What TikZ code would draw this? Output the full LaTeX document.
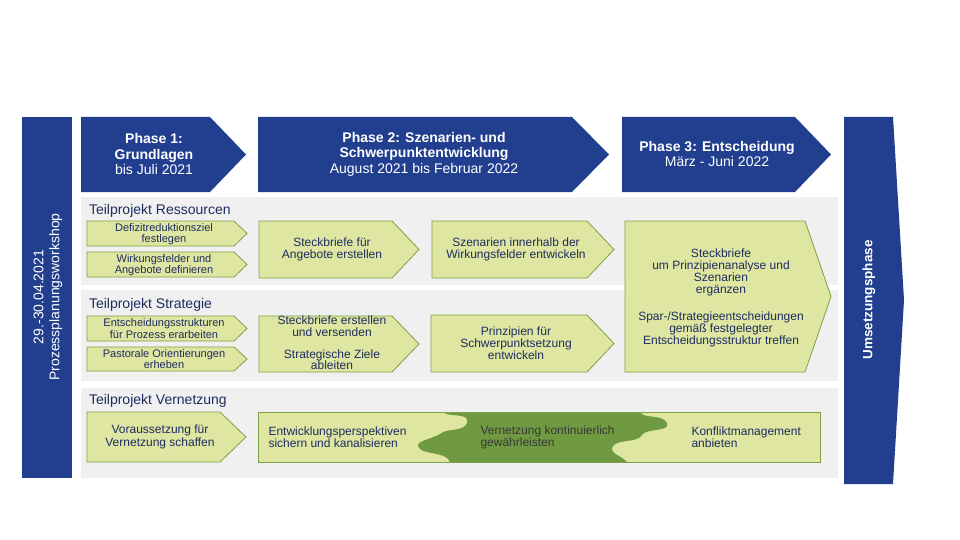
\documentclass[tikz,border=0pt]{standalone}
\usepackage{fontspec}
\setmainfont{Liberation Sans}
\definecolor{phaseblue}{RGB}{33,63,142}
\definecolor{stepgreen}{RGB}{223,230,161}
\definecolor{stepline}{RGB}{125,162,70}
\definecolor{blobgreen}{RGB}{112,154,66}
\definecolor{panelgray}{RGB}{240,240,240}
\definecolor{textnavy}{RGB}{30,44,96}

\begin{document}
\begin{tikzpicture}[x=1pt, y=-1pt,
    phase/.style={fill=phaseblue},
    panel/.style={fill=panelgray},
    stepbox/.style={fill=stepgreen, draw=stepline, line width=0.8pt},
    phasetext/.style={text=white, align=center, font=\fontsize{14}{15.5}\selectfont},
    sidetext/.style={text=white, align=center, rotate=90, font=\fontsize{14}{16}\selectfont},
    teiltext/.style={text=textnavy, anchor=base west, font=\fontsize{14}{16}\selectfont},
    smalltext/.style={text=textnavy, align=center, font=\fontsize{11}{11.5}\selectfont},
    steptext/.style={text=textnavy, align=center, font=\fontsize{12}{12.2}\selectfont}]
    \useasboundingbox [fill=white] (0,0) rectangle (960,540);

    % side bars
    \fill [phase] (22,117) rectangle (72,478);
    \node [sidetext] (workshop) at (48,297) {29.-30.04.2021\\Prozessplanungsworkshop};
    \fill [phase] (844,117) -- (893,117) -- (904,300) -- (893,484) -- (844,484) -- cycle;
    \node [sidetext, font=\fontsize{13.5}{16}\selectfont] (umsetzung) at (869,300) {\bfseries Umsetzungsphase};

    % phases
    \fill [phase] (81,117) -- (210,117) -- (246,154.5) -- (210,192) -- (81,192) -- cycle;
    \fill [phase] (258,117) -- (572,117) -- (609,154.5) -- (572,192) -- (258,192) -- cycle;
    \fill [phase] (622,117) -- (795,117) -- (831,154.5) -- (795,192) -- (622,192) -- cycle;
    \node [phasetext] (phase1) at (154,154) {\bfseries Phase 1:\\\bfseries Grundlagen\\bis Juli 2021};
    \node [phasetext] (phase2) at (424,154) {\bfseries Phase 2: Szenarien- und\\\bfseries Schwerpunktentwicklung\\August 2021 bis Februar 2022};
    \node [phasetext] (phase3) at (717,154) {\bfseries Phase 3: Entscheidung\\März - Juni 2022};

    % panels
    \fill [panel] (81,197) rectangle (838,285);
    \fill [panel] (81,290) rectangle (838,381);
    \fill [panel] (81,388) rectangle (838,478);
    \node [teiltext] (ressourcen) at (85.5,214) {Teilprojekt Ressourcen};
    \node [teiltext] (strategie) at (85.5,308) {Teilprojekt Strategie};
    \node [teiltext] (vernetzung) at (85.5,404) {Teilprojekt Vernetzung};

    % Teilprojekt Ressourcen
    \filldraw [stepbox] (87,221) -- (234,221) -- (247,233.5) -- (234,246) -- (87,246) -- cycle;
    \filldraw [stepbox] (87,252) -- (234,252) -- (247,264.5) -- (234,277) -- (87,277) -- cycle;
    \filldraw [stepbox] (259,221) -- (392,221) -- (419,249.5) -- (392,278) -- (259,278) -- cycle;
    \filldraw [stepbox] (432,221) -- (587,221) -- (614,249.5) -- (587,278) -- (432,278) -- cycle;
    \node [smalltext] (defizit) at (164,234) {Defizitreduktionsziel\\festlegen};
    \node [smalltext] (wirkung) at (164,265) {Wirkungsfelder und\\Angebote definieren};
    \node [steptext] (angebote) at (332,249) {Steckbriefe für\\Angebote erstellen};
    \node [steptext] (szenarien) at (516,249) {Szenarien innerhalb der\\Wirkungsfelder entwickeln};

    % Teilprojekt Strategie
    \filldraw [stepbox] (87,316) -- (234,316) -- (247,328.5) -- (234,341) -- (87,341) -- cycle;
    \filldraw [stepbox] (87,347) -- (234,347) -- (247,359) -- (234,371) -- (87,371) -- cycle;
    \filldraw [stepbox] (259,316) -- (392,316) -- (419,344) -- (392,372) -- (259,372) -- cycle;
    \filldraw [stepbox] (431,315) -- (587,315) -- (614,343.5) -- (587,372) -- (431,372) -- cycle;
    \node [smalltext] (strukturen) at (164,328.5) {Entscheidungsstrukturen\\für Prozess erarbeiten};
    \node [smalltext] (pastoral) at (164,359) {Pastorale Orientierungen\\erheben};
    \node [steptext, font=\fontsize{12}{11.6}\selectfont] (versenden) at (332,343) {Steckbriefe erstellen\\und versenden\\[10pt]Strategische Ziele\\ableiten};
    \node [steptext] (prinzipien) at (516,343) {Prinzipien für\\Schwerpunktsetzung\\entwickeln};

    % Phase 3 box over both rows
    \filldraw [stepbox] (625,221) -- (805,221) -- (831,296.5) -- (805,372) -- (625,372) -- cycle;
    \node [steptext, font=\fontsize{12}{12}\selectfont] (entscheidung) at (721,298) {Steckbriefe\\um Prinzipienanalyse und\\Szenarien\\ergänzen\\[15pt]Spar-/Strategieentscheidungen\\gemäß festgelegter\\Entscheidungsstruktur treffen};

    % Teilprojekt Vernetzung
    \filldraw [stepbox] (87,412) -- (220,412) -- (246,437) -- (220,462) -- (87,462) -- cycle;
    \fill [stepgreen] (258,412) rectangle (820,462);
    \fill [blobgreen] (443,412) .. controls (450,418) and (470,412) .. (467,423)
        .. controls (464,432) and (446,428) .. (440,434) .. controls (430,440) and (412,441) .. (420,449)
        .. controls (428,455) and (446,452) .. (450,462) -- (627,462)
        .. controls (622,456) and (608,453) .. (613,446) .. controls (618,439) and (638,443) .. (642,435)
        .. controls (646,428) and (671,432) .. (667,423) .. controls (663,414) and (643,419) .. (640,412) -- cycle;
    \draw [stepline, line width=0.8pt] (258,412) rectangle (820,462);
    \node [steptext, font=\fontsize{12}{13.5}\selectfont] (voraussetzung) at (160,437) {Voraussetzung für\\Vernetzung schaffen};
    \node [steptext, align=left, anchor=west] (perspektiven) at (265,437) {Entwicklungsperspektiven\\sichern und kanalisieren};
    \node [steptext, align=left, anchor=west, text=black!78] (kontinuierlich) at (477,437) {Vernetzung kontinuierlich\\gewährleisten};
    \node [steptext, align=left, anchor=west] (konflikt) at (688,437) {Konfliktmanagement\\anbieten};

\end{tikzpicture}
\end{document}
